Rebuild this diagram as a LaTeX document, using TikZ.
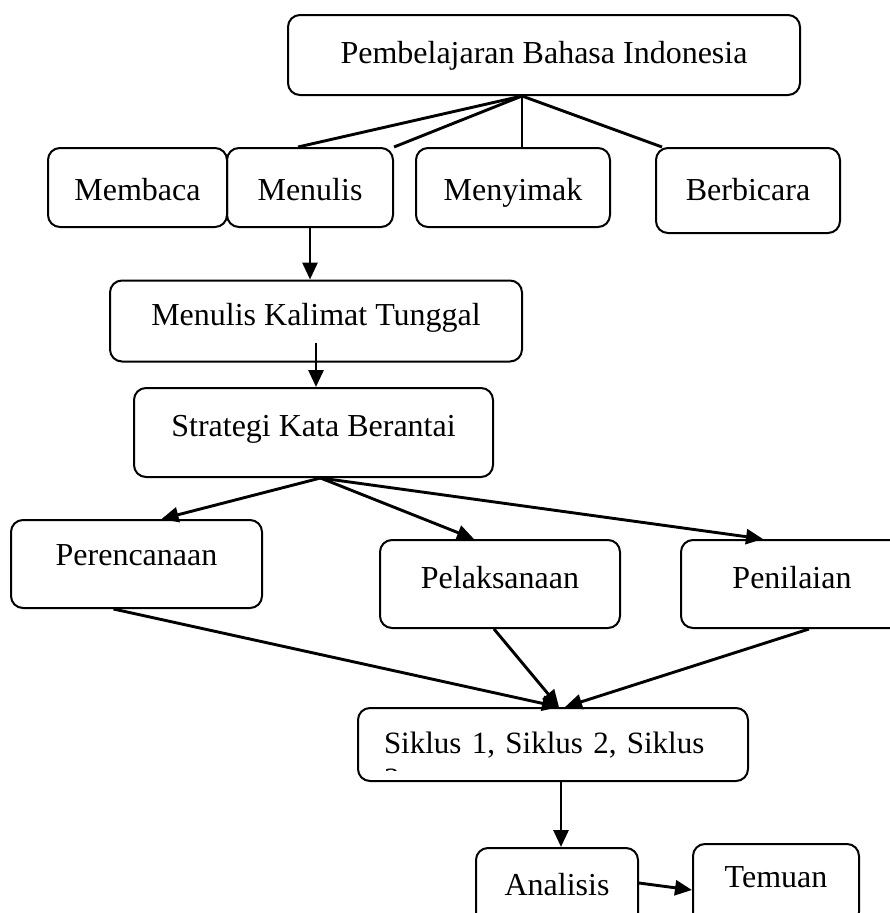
\documentclass[tikz,border=0pt]{standalone}
\usepackage{fontspec}
\setmainfont{Liberation Serif}
\usetikzlibrary{calc, arrows.meta}

\begin{document}
\begin{tikzpicture}[x=1pt, y=-1pt,
                box/.style={draw, line width=2pt, rounded corners=12pt, inner sep=0pt,
                    text height=30pt, font=\fontsize{32}{37}\selectfont},
                link/.style={line width=2.9pt},
                arr/.style={line width=2.9pt, -{Triangle[length=17pt, width=15pt]}}]
                \useasboundingbox (0,0) rectangle (890,913);
                \node[box, minimum width=512, minimum height=80, text depth=14pt] (root) at (544,55) {Pembelajaran Bahasa Indonesia};
                \node[box, minimum width=179, minimum height=79, text depth=4pt] (membaca) at (137.5,187.5) {Membaca};
                \node[box, minimum width=166, minimum height=79, text depth=4pt] (menulis) at (310,187.5) {Menulis};
                \node[box, minimum width=194, minimum height=79, text depth=4pt] (menyimak) at (513,187.5) {Menyimak};
                \node[box, minimum width=184, minimum height=85, text depth=10pt] (berbicara) at (748,190.5) {Berbicara};
                \node[box, minimum width=412, minimum height=81, text depth=22pt] (kalimat) at (316,321) {Menulis Kalimat Tunggal};
                \node[box, minimum width=359, minimum height=89, text depth=22pt] (strategi) at (313.5,432.5) {Strategi Kata Berantai};
                \node[box, minimum width=251, minimum height=88, text depth=27pt] (perencanaan) at (136.5,564) {Perencanaan};
                \node[box, minimum width=240, minimum height=88, text depth=22pt] (pelaksanaan) at (500,584) {Pelaksanaan};
                \node[box, minimum width=222, minimum height=88, text depth=22pt] (penilaian) at (792,584) {Penilaian};
                \node[box, minimum width=390, minimum height=73, text depth=13pt, inner xsep=26pt,
                    text width=338pt, align=left, font=\fontsize{31}{36}\selectfont] (siklus) at (553,744.5) {Siklus 1, Siklus 2, Siklus};
                \begin{scope}
                \clip (siklus.north west) rectangle ($(siklus.south east)+(0,-12)$);
                \node[anchor=base west, inner sep=0pt, font=\fontsize{31}{36}\selectfont] (tail) at (384,789) {3};
                \end{scope}
                \node[box, minimum width=162, minimum height=80, text depth=16pt] (analisis) at (557,888) {Analisis};
                \node[box, minimum width=166, minimum height=80, text depth=24pt] (temuan) at (776,884) {Temuan};
                \coordinate (hub) at ($(root.south)+(-22,0)$);
                \draw[link] (hub) -- ($(menulis.north west)+(72,0)$);
                \draw[link] (hub) -- (menulis.north east);
                \draw[link] (hub) -- (hub |- menyimak.north);
                \draw[link] (hub) -- ($(berbicara.north west)+(7,0)$);
                \draw[arr] (menulis.south) -- (menulis.south |- kalimat.north);
                \coordinate (mid) at ($(kalimat.south)+(0,-20)$);
                \draw[arr] (mid) -- (mid |- strategi.north);
                \coordinate (fan) at ($(strategi.south)+(7,0)$);
                \draw[arr] (fan) -- ($(perencanaan.north)+(25,0)$);
                \draw[arr] (fan) -- ($(pelaksanaan.north)+(-26,0)$);
                \draw[arr] (fan) -- ($(penilaian.north)+(-29,0)$);
                \draw[arr] ($(perencanaan.south)+(-23,0)$) -- ($(siklus.north)+(6,0)$);
                \draw[arr] ($(pelaksanaan.south)+(-6,0)$) -- ($(siklus.north)+(6,0)$);
                \draw[arr] ($(penilaian.south)+(17,0)$) -- ($(siklus.north)+(12,0)$);
                \coordinate (drop) at ($(siklus.south)+(8,0)$);
                \draw[arr] (drop) -- (drop |- analisis.north);
                \draw[arr] ($(analisis.east)+(0,-5)$) -- ($(temuan.west)+(0,6)$);
\end{tikzpicture}
\end{document}
